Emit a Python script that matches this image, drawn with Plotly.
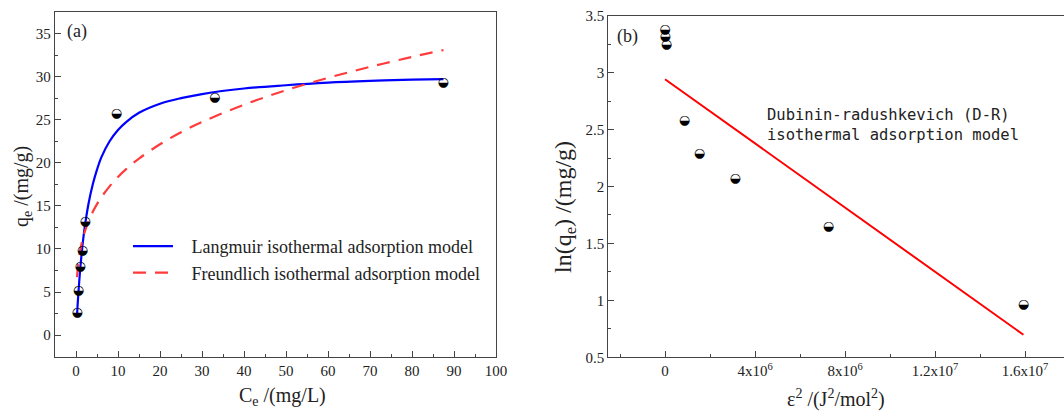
import plotly.graph_objects as go

# ---------------- data: panel (a) ----------------
ce_data = [0.25, 0.55, 1.0, 1.5, 2.2, 9.6, 33.0, 87.4]
qe_data = [2.6, 5.2, 7.9, 9.8, 13.2, 25.7, 27.5, 29.3]

lang_c = [0.25, 0.5, 1, 1.5, 2, 3, 4, 5, 6, 8, 10, 12, 15, 20, 25, 30, 40, 50, 60, 70, 80, 87.5]
lang_q = [2.36, 4.37, 7.65, 10.2, 12.25, 15.3, 17.5, 19.2, 20.6, 22.5, 23.8, 24.75, 25.8,
          26.85, 27.5, 27.98, 28.62, 29.0, 29.3, 29.5, 29.65, 29.72]

freu_c = [0.25, 0.5, 1, 1.5, 2, 3, 4, 5, 6, 8, 10, 12, 15, 20, 25, 30, 40, 50, 60, 70, 80, 87.5]
freu_q = [6.74, 8.13, 9.82, 10.96, 11.85, 13.23, 14.31, 15.2, 15.98, 17.27, 18.35, 19.29, 20.49,
          22.15, 23.54, 24.73, 26.74, 28.42, 29.86, 31.13, 32.29, 33.08]

# ---------------- data: panel (b) ----------------
eps2_data = [1e3, 6e3, 6e4, 8.6e5, 1.53e6, 3.12e6, 7.26e6, 1.593e7]
lnq_data = [3.378, 3.314, 3.246, 2.58, 2.287, 2.07, 1.646, 0.962]

dr_x = [0, 1.593e7]
dr_y = [2.942, 0.698]

xa_ticks = [0, 10, 20, 30, 40, 50, 60, 70, 80, 90, 100]
ya_ticks = [0, 5, 10, 15, 20, 25, 30, 35]
xb_tickvals = [0, 4e6, 8e6, 1.2e7, 1.6e7]
xb_ticktext = ["0", "4x10<sup>6</sup>", "8x10<sup>6</sup>", "1.2x10<sup>7</sup>", "1.6x10<sup>7</sup>"]
yb_ticks = [0.5, 1, 1.5, 2, 2.5, 3, 3.5]
yb_ticktext = ["0.5", "1", "1.5", "2", "2.5", "3", "3.5"]

W, H = 1064, 411
SERIF = "Liberation Serif"
AX = "#444444"
TXT = "#222222"
GLYPH = "\u25D2"
PAD = "\u00a0\u00a0\u00a0"

fig = go.Figure()

fig.add_trace(go.Scatter(x=lang_c, y=lang_q, mode="lines", line=dict(color="#0000FF", width=2.2, shape="spline"),
                         name=PAD + "Langmuir isothermal adsorption model", xaxis="x", yaxis="y"))
fig.add_trace(go.Scatter(x=freu_c, y=freu_q, mode="lines",
                         line=dict(color="#FF3B3B", width=2.2, dash="13px,9px", shape="spline"),
                         name=PAD + "Freundlich isothermal adsorption model", xaxis="x", yaxis="y"))
fig.add_trace(go.Scatter(x=ce_data, y=qe_data, mode="text", text=[GLYPH] * len(ce_data),
                         textposition="middle center",
                         textfont=dict(family="DejaVu Sans", size=13, color="black"),
                         showlegend=False, xaxis="x", yaxis="y"))

fig.add_trace(go.Scatter(x=dr_x, y=dr_y, mode="lines", line=dict(color="#FF0000", width=2),
                         showlegend=False, xaxis="x2", yaxis="y2"))
fig.add_trace(go.Scatter(x=eps2_data, y=lnq_data, mode="text", text=[GLYPH] * len(eps2_data),
                         textposition="middle center",
                         textfont=dict(family="DejaVu Sans", size=13, color="black"),
                         showlegend=False, xaxis="x2", yaxis="y2"))

common = dict(showgrid=False, zeroline=False, showline=True, linecolor=AX, linewidth=1.3,
              ticks="inside", tickcolor=AX, tickwidth=1.2, ticklen=6,
              tickfont=dict(family=SERIF, size=15, color=TXT), automargin=False)

fig.update_layout(
    width=W, height=H, margin=dict(l=0, r=0, t=0, b=0),
    paper_bgcolor="white", plot_bgcolor="white",
    xaxis=dict(domain=[55 / W, 496 / W], range=[-5, 100], tickvals=xa_ticks, mirror=True,
               minor=dict(dtick=5, ticks="inside", ticklen=3, tickcolor=AX), anchor="y", **common),
    yaxis=dict(domain=[1 - 356.7 / H, 1 - 12 / H], range=[-2.5, 37.5], tickvals=ya_ticks, mirror=True,
               minor=dict(dtick=2.5, ticks="inside", ticklen=3, tickcolor=AX), anchor="x", **common),
    xaxis2=dict(domain=[608.3 / W, 1.0], range=[-2.52e6, 1.7733e7], tickvals=xb_tickvals, ticktext=xb_ticktext,
                mirror=True, minor=dict(dtick=2e6, tick0=0, ticks="inside", ticklen=3, tickcolor=AX),
                anchor="y2", **common),
    yaxis2=dict(domain=[1 - 357.3 / H, 1 - 15.7 / H], range=[0.5, 3.5], tickvals=yb_ticks, ticktext=yb_ticktext,
                mirror=False, minor=dict(dtick=0.25, tick0=0, ticks="inside", ticklen=3, tickcolor=AX),
                anchor="x2", **common),
    showlegend=True,
    legend=dict(x=128 / W, y=1 - 228 / H, xanchor="left", yanchor="top", bgcolor="rgba(0,0,0,0)",
                font=dict(family=SERIF, size=18, color=TXT), tracegroupgap=0, itemwidth=40),
)

ann = [
    dict(text="(a)", x=65 / W, y=1 - 31 / H, xanchor="left", yanchor="middle", font=dict(size=18)),
    dict(text="(b)", x=615 / W, y=1 - 36 / H, xanchor="left", yanchor="middle", font=dict(size=18)),
    dict(text="C<sub>e</sub> /(mg/L)", x=282 / W, y=1 - 396 / H, xanchor="center", yanchor="middle",
         font=dict(size=20)),
    dict(text="q<sub>e</sub> /(mg/g)", x=22 / W, y=1 - 187 / H, xanchor="center", yanchor="middle",
         textangle=-90, font=dict(size=20)),
    dict(text="\u03b5<sup>2</sup> /(J<sup>2</sup>/mol<sup>2</sup>)", x=836 / W, y=1 - 398 / H,
         xanchor="center", yanchor="middle", font=dict(size=20)),
    dict(text="ln(q<sub>e</sub>) /(mg/g)", x=565 / W, y=1 - 207 / H, xanchor="center", yanchor="middle",
         textangle=-90, font=dict(size=24)),
    dict(text="Dubinin-radushkevich (D-R)<br>isothermal adsorption model", x=765 / W, y=1 - 125 / H,
         xanchor="left", yanchor="middle", align="left",
         font=dict(family="DejaVu Sans Mono", size=15.5, color=TXT)),
]
for a in ann:
    f = dict(family=SERIF, color=TXT)
    f.update(a.pop("font"))
    fig.add_annotation(xref="paper", yref="paper", showarrow=False, font=f, **a)

fig.write_html("out.html")
